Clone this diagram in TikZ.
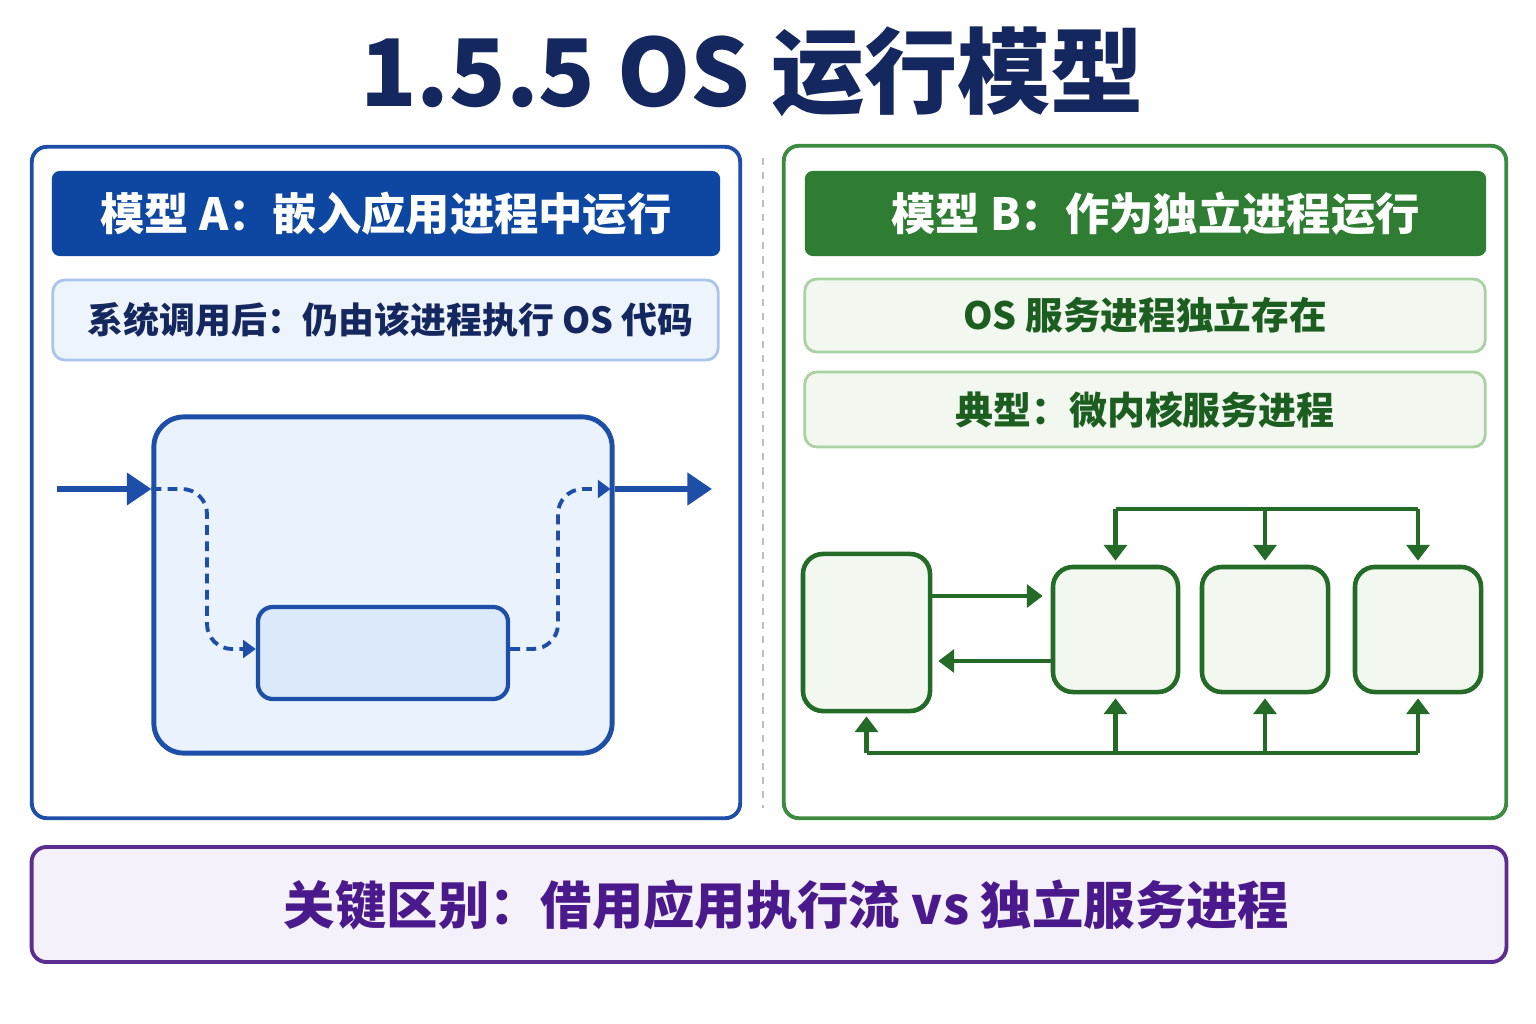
\documentclass[tikz,border=0pt]{standalone}
\usepackage{fontspec}
\setmainfont{Noto Sans CJK SC}
\usetikzlibrary{arrows.meta,positioning}

\definecolor{navy}{HTML}{15275F}
\definecolor{blueA}{HTML}{0D47A1}
\definecolor{lineA}{HTML}{1E4FA8}
\definecolor{paleA}{HTML}{EEF4FC}
\definecolor{edgeA}{HTML}{A9C5EC}
\definecolor{procA}{HTML}{E9F2FD}
\definecolor{kernA}{HTML}{DCE9FA}
\definecolor{greenB}{HTML}{2E7D32}
\definecolor{lineB}{HTML}{3D8B40}
\definecolor{paleB}{HTML}{F2F8EF}
\definecolor{edgeB}{HTML}{A8D2A2}
\definecolor{textB}{HTML}{1B5E20}
\definecolor{drawB}{HTML}{236B26}
\definecolor{purp}{HTML}{5C2D91}
\definecolor{palep}{HTML}{F5F1FB}
\definecolor{textp}{HTML}{4A1A8C}

\begin{document}
\begin{tikzpicture}[x=0.01cm,y=-0.01cm,
  panel/.style={draw,line width=1.1pt,rounded corners=0.15cm,fill=white},
  head/.style={rounded corners=0.08cm,text=white,font=\fontsize{12.6}{14}\selectfont\bfseries},
  sub/.style={draw,line width=0.8pt,rounded corners=0.12cm,font=\fontsize{10.2}{12}\selectfont\bfseries},
  procbox/.style={draw=lineA,line width=1.4pt,rounded corners=0.3cm,fill=procA},
  kernbox/.style={draw=lineA,line width=1.2pt,rounded corners=0.15cm,fill=kernA},
  srvbox/.style={draw=drawB,line width=1.3pt,rounded corners=0.2cm,fill=paleB},
  flowA/.style={draw=lineA,line width=1.6pt,-{Triangle[length=7pt,width=9pt]}},
  dashA/.style={draw=lineA,line width=1.1pt,dash pattern=on 2.8pt off 1.8pt,rounded corners=0.25cm},
  tipA/.style={-{Triangle[length=3.6pt,width=5pt]}},
  flowB/.style={draw=drawB,line width=1.4pt,-{Triangle[length=4.5pt,width=6.5pt]}},
  busB/.style={draw=drawB,line width=1.4pt}]
\useasboundingbox (0,0) rectangle (1536,1024);

% title
\node[text=navy,font=\fontsize{26.5}{30}\selectfont\bfseries] (title) at (752,72) {1.5.5 OS 运行模型};

% model A
\node[panel,draw=lineA,minimum width=7.08cm,minimum height=6.71cm] (panelA) at (386,482.5) {};
\node[head,fill=blueA,minimum width=6.68cm,minimum height=0.85cm] (headA) at (386,213.5) {模型 A：嵌入应用进程中运行};
\node[sub,draw=edgeA,fill=paleA,text=navy,minimum width=6.65cm,minimum height=0.8cm] (subA) at (385.5,320) {\hspace*{0.1cm}系统调用后：仍由该进程执行 OS 代码};
\node[procbox,minimum width=4.58cm,minimum height=3.36cm] (procA) at (383,585) {};
\node[kernbox,minimum width=2.5cm,minimum height=0.92cm] (kernA) at (383,653) {};
\coordinate (inA) at (57,489);
\coordinate (outA) at (712,489);
\draw[flowA] (inA) -- (inA -| procA.west);
\draw[flowA] (outA -| procA.east) -- (outA);
\draw[dashA,tipA] (inA -| procA.west) -- (207,489) -- (207,649) -- (kernA.west |- 0,649);
\draw[dashA,tipA] (kernA.east |- 0,649) -- (558,649) -- (558,489) -- ([xshift=-0.04cm]outA -| procA.east);

% divider
\draw[gray!50,line width=0.6pt,dash pattern=on 2pt off 2pt] (763,158) -- (763,808);

% model B
\node[panel,draw=lineB,minimum width=7.22cm,minimum height=6.72cm] (panelB) at (1145,482) {};
\node[head,fill=greenB,minimum width=6.81cm,minimum height=0.85cm] (headB) at (1145.5,213.5) {\hspace*{0.2cm}模型 B：作为独立进程运行};
\node[sub,draw=edgeB,fill=paleB,text=textB,font=\fontsize{10.7}{12}\selectfont\bfseries,minimum width=6.8cm,minimum height=0.73cm] (subB1) at (1145,315.5) {OS 服务进程独立存在};
\node[sub,draw=edgeB,fill=paleB,text=textB,font=\fontsize{10.8}{12}\selectfont\bfseries,minimum width=6.8cm,minimum height=0.75cm] (subB2) at (1145,409.5) {典型：微内核服务进程};
\node[srvbox,minimum width=1.27cm,minimum height=1.57cm] (kernB) at (866.5,632.5) {};
\node[srvbox,minimum width=1.25cm,minimum height=1.25cm] (s1) at (1115.5,629.5) {};
\node[srvbox,minimum width=1.26cm,minimum height=1.25cm] (s2) at (1265,629.5) {};
\node[srvbox,minimum width=1.26cm,minimum height=1.25cm] (s3) at (1418,629.5) {};
\coordinate (top) at (0,509);
\coordinate (bot) at (0,753);
\draw[flowB,shorten >=0.08cm] (kernB.east |- 0,596) -- (s1.west |- 0,596);
\draw[flowB,shorten >=0.06cm] (s1.west |- 0,661) -- (kernB.east |- 0,661);
\draw[busB] (s1.north |- top) -- (s3.north |- top);
\draw[busB] (kernB.south |- bot) -- (s3.south |- bot);
\foreach \s in {s1,s2,s3} {
  \draw[flowB,shorten >=0.04cm] (\s.north |- top) -- (\s.north);
  \draw[flowB,shorten >=0.04cm] (\s.south |- bot) -- (\s.south);
}
\draw[flowB,shorten >=0.03cm] (kernB.south |- bot) -- (kernB.south);

% key difference
\node[draw=purp,line width=1.1pt,fill=palep,rounded corners=0.15cm,minimum width=14.74cm,minimum height=1.15cm,
  text=textp,font=\fontsize{14.6}{17}\selectfont\bfseries] (diff) at (769,904.5) {\hspace*{0.35cm}关键区别：借用应用执行流 vs 独立服务进程};
\end{tikzpicture}
\end{document}
